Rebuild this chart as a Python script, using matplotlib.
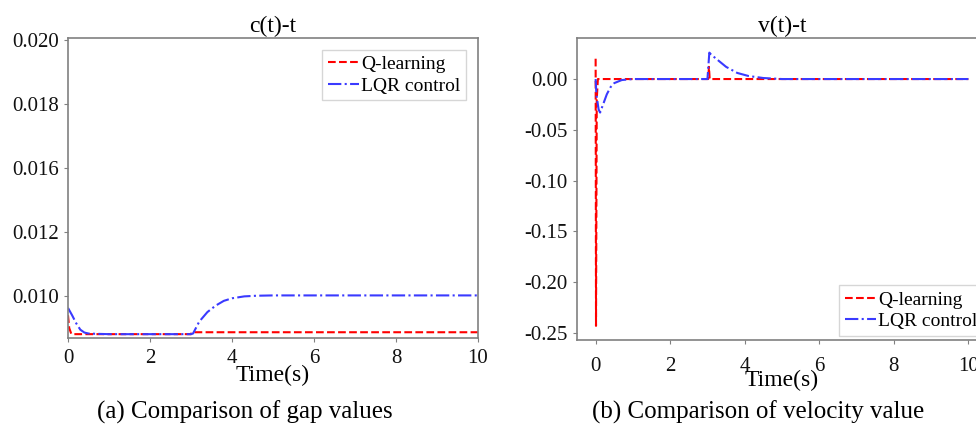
import numpy as np
import matplotlib
matplotlib.use("Agg")
import matplotlib.pyplot as plt

plt.rcParams['font.family'] = ['Liberation Serif', 'DejaVu Serif']
plt.rcParams['axes.unicode_minus'] = False

# gap c(t)
t_c_q = [0, 0.03, 0.08, 0.15, 3.0, 3.02, 10]
c_q = [0.0094, 0.0090, 0.00882, 0.00881, 0.00881, 0.00887, 0.00887]
t_c_lqr = [0, 0.1, 0.2, 0.3, 0.4, 0.5, 0.7, 1.0, 3.0, 3.05, 3.2, 3.4, 3.6, 3.8,
           4.0, 4.3, 4.6, 5.0, 6.0, 10]
c_lqr = [0.00963, 0.0094, 0.00915, 0.00895, 0.00886, 0.00883, 0.00882, 0.00881,
         0.00881, 0.00883, 0.00920, 0.00950, 0.00970, 0.00985, 0.00993, 0.00999,
         0.01001, 0.01002, 0.01002, 0.01002]
c_ticks = [0.010, 0.012, 0.014, 0.016, 0.018]
c_ticklabels = ['0.010', '0.012', '0.016', '0.018', '0.020']

# velocity v(t)
t_v_q = [0, 0.01, 0.03, 0.06, 3.02, 3.04, 3.06, 10]
v_q = [0.02, -0.243, -0.02, 0, 0, 0.012, 0, 0]
t_v_lqr = [0, 0.02, 0.08, 0.12, 0.2, 0.3, 0.4, 0.5, 0.7, 1.0, 3.0, 3.05, 3.1,
           3.3, 3.5, 3.8, 4.1, 4.5, 5.0, 10]
v_lqr = [0, -0.015, -0.030, -0.033, -0.025, -0.015, -0.008, -0.004, -0.001, 0,
         0, 0.026, 0.024, 0.018, 0.012, 0.006, 0.003, 0.001, 0, 0]
v_ticks = [0.00, -0.05, -0.10, -0.15, -0.20, -0.25]

W, H = 976, 432
fig = plt.figure(figsize=(W / 100, H / 100), dpi=100)

def style(ax):
    for s in ax.spines.values():
        s.set_color('#808080')
        s.set_linewidth(1.2)
    ax.tick_params(colors='#808080', labelcolor='#111111', labelsize=15, length=3)

ax1 = fig.add_axes([68 / W, 1 - 338 / H, 410 / W, 300 / H])
ax1.plot(t_c_q, c_q, '--', color='red', lw=1.5, label='Q-learning')
ax1.plot(t_c_lqr, c_lqr, '-.', color='#3a3aff', lw=1.5, label='LQR control')
ax1.set_xlim(0, 10)
ax1.set_ylim(0.00869, 0.01806)
ax1.set_yticks(c_ticks)
ax1.set_yticklabels(c_ticklabels)
ax1.set_xticks([0, 2, 4, 6, 8, 10])
style(ax1)
ax1.tick_params(axis='x', pad=5)
ax1.set_title('c(t)-t', fontsize=17, pad=4)
ax1.set_xlabel('Time(s)', fontsize=17, labelpad=-2)
ax1.legend(loc='upper right', fontsize=14, handlelength=1.6, handletextpad=0.1,
           borderpad=0.3, labelspacing=0.2, borderaxespad=0.6,
           fancybox=False, edgecolor='#cccccc')

ax2 = fig.add_axes([577 / W, 1 - 340 / H, 410 / W, 302 / H])
ax2.plot(t_v_q, v_q, '--', color='red', lw=1.5, label='Q-learning')
ax2.plot(t_v_lqr, v_lqr, '-.', color='#3a3aff', lw=1.5, label='LQR control')
ax2.set_xlim(-0.5, 10.5)
ax2.set_ylim(-0.2569, 0.0404)
ax2.set_yticks(v_ticks)
ax2.set_yticklabels(['%.2f' % v for v in v_ticks])
ax2.set_xticks([0, 2, 4, 6, 8, 10])
style(ax2)
ax2.tick_params(axis='x', pad=9)
ax2.set_title('v(t)-t', fontsize=17, pad=4)
ax2.set_xlabel('Time(s)', fontsize=17, labelpad=-4)
ax2.legend(loc='lower right', fontsize=14, handlelength=1.6, handletextpad=0.1,
           borderpad=0.3, labelspacing=0.2, borderaxespad=0.2,
           fancybox=False, edgecolor='#cccccc')

fig.text(245 / W, 1 - 412 / H, '(a) Comparison of gap values', ha='center',
         va='center', fontsize=18)
fig.text(758 / W, 1 - 412 / H, '(b) Comparison of velocity value', ha='center',
         va='center', fontsize=18)

fig.savefig('out.png', dpi=100)
